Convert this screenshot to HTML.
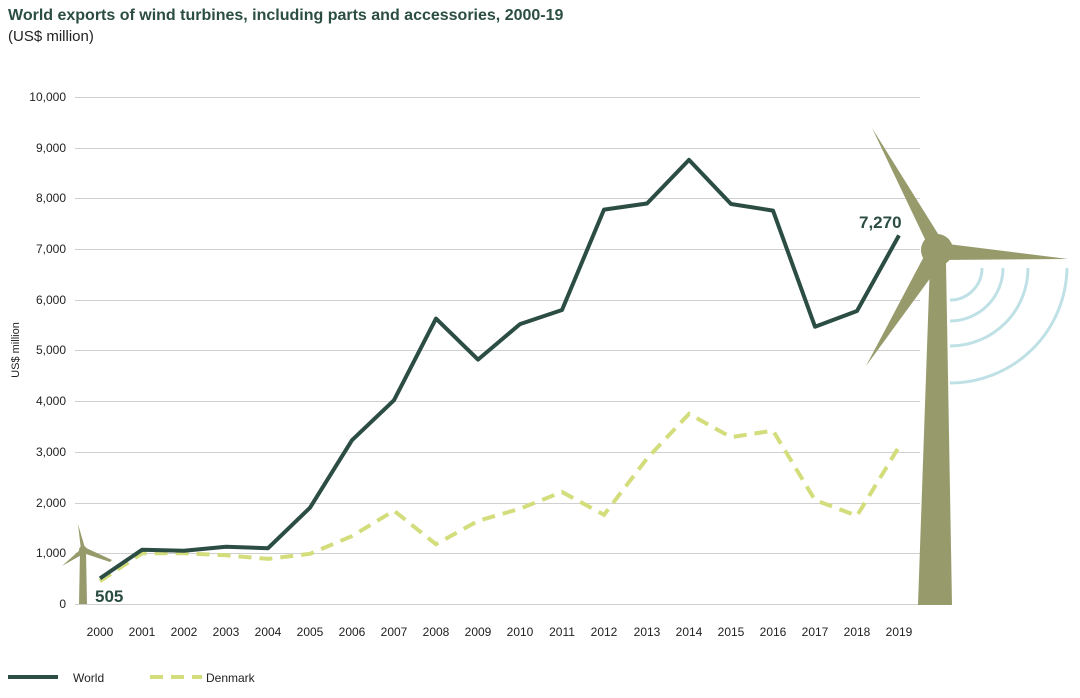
<!DOCTYPE html>
<html><head><style>
body{margin:0;background:#fff;width:1080px;height:693px;overflow:hidden}
text{font-family:"Liberation Sans",sans-serif}
</style></head><body>
<svg width="1080" height="693" viewBox="0 0 1080 693">
<text x="8" y="20" font-size="16" font-weight="bold" fill="#2b4d43">World exports of wind turbines, including parts and accessories, 2000-19</text>
<text x="8" y="41" font-size="15" fill="#222">(US$ million)</text>
<g stroke="#cfcfcf" stroke-width="1">
<line x1="75" x2="920" y1="97.5" y2="97.5"/><line x1="75" x2="920" y1="148.5" y2="148.5"/>
<line x1="75" x2="920" y1="198.5" y2="198.5"/><line x1="75" x2="920" y1="249.5" y2="249.5"/>
<line x1="75" x2="920" y1="300.5" y2="300.5"/><line x1="75" x2="920" y1="350.5" y2="350.5"/>
<line x1="75" x2="920" y1="401.5" y2="401.5"/><line x1="75" x2="920" y1="452.5" y2="452.5"/>
<line x1="75" x2="920" y1="503.5" y2="503.5"/><line x1="75" x2="920" y1="553.5" y2="553.5"/>
<line x1="75" x2="920" y1="604.5" y2="604.5"/>
</g>
<g font-size="12" fill="#222" text-anchor="end">
<text x="66" y="101">10,000</text><text x="66" y="152">9,000</text><text x="66" y="202">8,000</text>
<text x="66" y="253">7,000</text><text x="66" y="304">6,000</text><text x="66" y="354">5,000</text>
<text x="66" y="405">4,000</text><text x="66" y="456">3,000</text><text x="66" y="507">2,000</text>
<text x="66" y="557">1,000</text><text x="66" y="608">0</text>
</g>
<text transform="translate(19,350) rotate(-90)" font-size="11" fill="#222" text-anchor="middle">US$ million</text>
<g font-size="12" fill="#222" text-anchor="middle">
<text x="100" y="636">2000</text><text x="142" y="636">2001</text><text x="184" y="636">2002</text><text x="226" y="636">2003</text><text x="268" y="636">2004</text><text x="310" y="636">2005</text><text x="352" y="636">2006</text><text x="394" y="636">2007</text><text x="436" y="636">2008</text><text x="478" y="636">2009</text><text x="520" y="636">2010</text><text x="562" y="636">2011</text><text x="604" y="636">2012</text><text x="647" y="636">2013</text><text x="689" y="636">2014</text><text x="731" y="636">2015</text><text x="773" y="636">2016</text><text x="815" y="636">2017</text><text x="857" y="636">2018</text><text x="899" y="636">2019</text>
</g>
<!-- small turbine -->
<g fill="#979b6c">
<polygon points="80,551 86,551 87,604 79,604"/>
<polygon points="78,524 85,548 81,550"/>
<polygon points="84,547 112,560 110,562 83,553"/>
<polygon points="82,548 62,566 85,553"/>
<circle cx="83" cy="550" r="4"/>
</g>
<polyline fill="none" stroke="#d3dd7c" stroke-width="4" stroke-dasharray="13,8" points="100,581.2 142,553.3 184,553.3 226,555.3 268,558.9 310,553.8 352,536.1 394,510.7 436,544.2 478,520.9 520,508.7 562,492 604,514.8 647,458.5 689,413.9 731,437.2 773,430.6 815,500.1 857,515.8 899,446.8"/>
<polyline fill="none" stroke="#2b4d43" stroke-width="4" stroke-linejoin="round" points="100,578.4 142,549.8 184,550.8 226,546.7 268,548.2 310,507.7 352,440.2 394,400.2 436,318.6 478,359.6 520,324.1 562,310 604,209.6 647,203.5 689,159.9 731,204 773,210.6 815,326.7 857,311 899,235.4"/>
<text x="95" y="602" font-size="17" font-weight="bold" fill="#2b4d43">505</text>
<text x="859" y="228" font-size="17" font-weight="bold" fill="#2b4d43">7,270</text>
<!-- big turbine -->
<g fill="none" stroke="#bfe1e6" stroke-width="3">
<path d="M950,300 A32,32 0 0 0 982,268"/>
<path d="M950,321 A53,53 0 0 0 1003,268"/>
<path d="M950,346 A78,78 0 0 0 1028,268"/>
<path d="M950,383 A117,117 0 0 0 1067,268"/>
</g>
<g fill="#979b6c">
<polygon points="930,262 946,262 952,605 918,605"/>
<polygon points="872,128 945,245 932,254"/>
<polygon points="940,243 1068,259 940,260"/>
<polygon points="930,245 945,258 866,366"/>
<circle cx="937" cy="250" r="16"/>
</g>
<line x1="8" y1="677" x2="58" y2="677" stroke="#2b4d43" stroke-width="4"/>
<text x="73" y="682" font-size="12" fill="#222">World</text>
<line x1="150" y1="677" x2="202" y2="677" stroke="#d3dd7c" stroke-width="4" stroke-dasharray="13,8"/>
<text x="206" y="682" font-size="12" fill="#222">Denmark</text>
</svg>
</body></html>
